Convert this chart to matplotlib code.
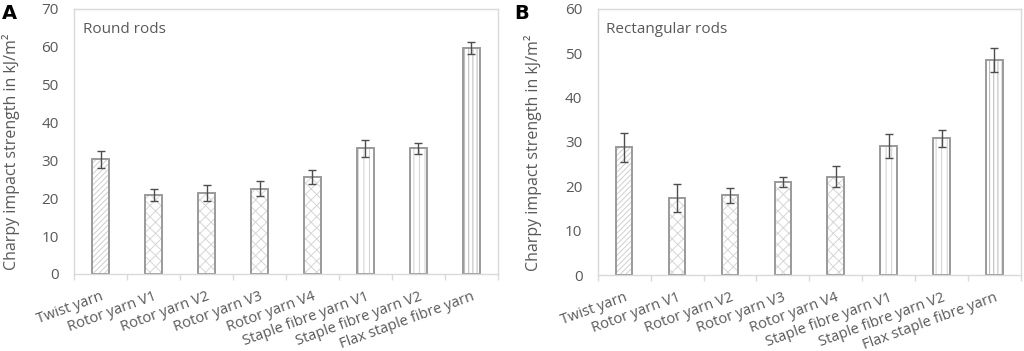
import matplotlib
matplotlib.use("Agg")
import matplotlib.pyplot as plt
import numpy as np

plt.rcParams['font.family'] = ['Open Sans', 'DejaVu Sans']
plt.rcParams['hatch.linewidth'] = 0.7

categories = ["Twist yarn", "Rotor yarn V1", "Rotor yarn V2", "Rotor yarn V3",
              "Rotor yarn V4", "Staple fibre yarn V1", "Staple fibre yarn V2",
              "Flax staple fibre yarn"]
round_vals = [30.3, 20.8, 21.4, 22.5, 25.7, 33.2, 33.2, 59.7]
round_err = [2.3, 1.65, 2.2, 2.0, 1.9, 2.3, 1.4, 1.7]
rect_vals = [28.8, 17.4, 18.0, 20.9, 22.2, 29.1, 30.8, 48.5]
rect_err = [3.3, 3.1, 1.7, 1.1, 2.3, 2.6, 1.9, 2.7]
hatches = ["//////", "xxx", "xxx", "xxx", "xxx", "|||", "|||", "||||"]
hatch_colors = ["#cfcfcf", "#d6d6d6", "#d6d6d6", "#d6d6d6", "#d6d6d6",
                "#d0d0d0", "#d0d0d0", "#b8b8b8"]

fig = plt.figure(figsize=(10.24, 3.51), dpi=100)
axA = fig.add_axes([0.0723, 0.2194, 0.4140, 0.7550])
axB = fig.add_axes([0.5837, 0.2165, 0.4133, 0.7579])

gray_txt = "#595959"
edge = "#9a9a9a"
spine_c = "#d9d9d9"

def draw(ax, vals, errs, ymax, title, letter, lx, ylx):
    x = np.arange(len(categories))
    w = 0.315
    for i in range(len(categories)):
        # hatch layer
        ax.bar(x[i], vals[i], width=w, facecolor="white", edgecolor=hatch_colors[i],
               linewidth=0, hatch=hatches[i], zorder=2)
        # outline layer
        ax.bar(x[i], vals[i], width=w, facecolor="none", edgecolor=edge,
               linewidth=1.4, zorder=2.5)
    ax.errorbar(x, vals, yerr=errs, fmt="none", ecolor="#4d4d4d",
                elinewidth=1.0, capsize=3, capthick=1.0, zorder=3)
    ax.set_xlim(-0.5, len(categories) - 0.5)
    ax.set_ylim(0, ymax)
    ax.set_yticks(np.arange(0, ymax + 1, 10))
    ax.set_xticks(x)
    ax.set_xticklabels(categories, rotation=20, ha="right",
                       rotation_mode="anchor", color=gray_txt, fontsize=10.5)
    ax.set_xticks(np.arange(-0.5, len(categories)), minor=True)
    ax.tick_params(axis="x", which="major", length=0, pad=11)
    ax.tick_params(axis="x", which="minor", length=4, color=spine_c, width=1)
    ax.tick_params(axis="y", length=0, labelcolor=gray_txt, labelsize=11, pad=11)
    for s in ax.spines.values():
        s.set_color(spine_c)
        s.set_linewidth(1.0)
    ax.set_ylabel("Charpy impact strength in kJ/m²", color=gray_txt, fontsize=11.5)
    ax.yaxis.set_label_coords(ylx, 0.46)
    ax.text(0.02, 0.95, title, transform=ax.transAxes, ha="left", va="top",
            color=gray_txt, fontsize=11)
    fig.text(lx, 0.99, letter, ha="left", va="top", fontsize=14,
             fontweight="bold", family="DejaVu Sans", color="black")

draw(axA, round_vals, round_err, 70, "Round rods", "A", 0.002, -0.128)
draw(axB, rect_vals, rect_err, 60, "Rectangular rods", "B", 0.502, -0.131)

fig.savefig("out.png", dpi=100)
